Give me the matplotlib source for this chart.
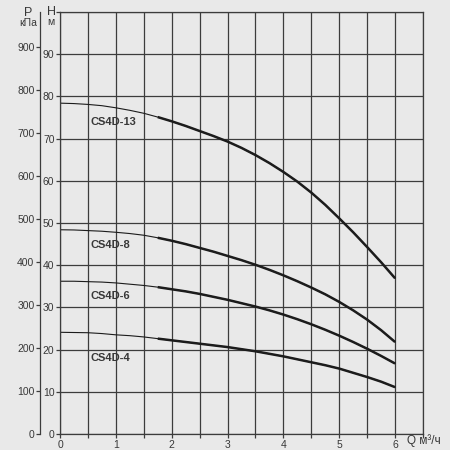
import matplotlib.pyplot as plt
import numpy as np

plt.rcParams['font.family'] = ['Liberation Sans', 'DejaVu Sans']

# flow, m3/h
q = [0, 0.25, 0.5, 0.75, 1, 1.25, 1.5, 1.75, 2, 2.25, 2.5, 2.75, 3,
     3.25, 3.5, 3.75, 4, 4.25, 4.5, 4.75, 5, 5.25, 5.5, 5.75, 6]
# head, m
h_13 = [78.4, 78.3, 78.1, 77.8, 77.3, 76.7, 76.0, 75.1, 74.1, 73.0, 71.8, 70.6, 69.3,
        67.8, 66.1, 64.2, 62.1, 59.8, 57.2, 54.3, 51.1, 47.8, 44.3, 40.7, 36.9]
h_8 = [48.4, 48.35, 48.2, 48.05, 47.8, 47.5, 47.1, 46.5, 45.8, 45.0, 44.1, 43.2, 42.2,
       41.2, 40.1, 38.9, 37.6, 36.2, 34.7, 33.1, 31.3, 29.3, 27.1, 24.6, 21.8]
h_6 = [36.2, 36.2, 36.1, 36.0, 35.8, 35.5, 35.2, 34.8, 34.3, 33.8, 33.2, 32.5, 31.8,
       31.0, 30.2, 29.3, 28.3, 27.2, 26.0, 24.7, 23.3, 21.8, 20.2, 18.5, 16.7]
h_4 = [24.1, 24.05, 24.0, 23.8, 23.5, 23.3, 23.0, 22.6, 22.2, 21.8, 21.4, 21.0, 20.6,
       20.1, 19.6, 19.0, 18.4, 17.7, 17.0, 16.3, 15.5, 14.5, 13.5, 12.4, 11.1]
names = ['CS4D-13', 'CS4D-8', 'CS4D-6', 'CS4D-4']
name_h = [73.9, 44.7, 32.6, 18.0]
q_grid = [0, 0.5, 1, 1.5, 2, 2.5, 3, 3.5, 4, 4.5, 5, 5.5, 6, 6.5]
q_labels = ['0', '', '1', '', '2', '', '3', '', '4', '', '5', '', '6', '']
h_ticks = [0, 10, 20, 30, 40, 50, 60, 70, 80, 90]
p_ticks = [0, 100, 200, 300, 400, 500, 600, 700, 800, 900]

bg = '#e9e9e9'
ink = '#1c1c1c'
gridc = '#3c3c3c'
txt = '#383838'

fig = plt.figure(figsize=(4.5, 4.5), dpi=100, facecolor=bg)
ax = fig.add_axes([60/450, 16/450, 363/450, 422/450], facecolor=bg)

ax.set_xlim(0, 6.5)
ax.set_ylim(0, 100)
ax.set_xticks(q_grid)
ax.set_xticklabels(q_labels)
ax.set_yticks(h_ticks + [100])
ax.set_yticklabels([str(t) for t in h_ticks] + [''])
ax.grid(True, color=gridc, lw=0.9)
for s in ax.spines.values():
    s.set_color(gridc)
    s.set_linewidth(0.9)
ax.tick_params(axis='both', length=3, width=0.9, color=gridc,
               labelsize=7.5, labelcolor=txt, pad=1)

ini = 7  # thick part from q = 1.75
for h in [h_13, h_8, h_6, h_4]:
    ax.plot(q, h, color=ink, lw=0.8)
    ax.plot(q[ini:], h[ini:], color=ink, lw=1.8, solid_capstyle='butt')

for n, y in zip(names, name_h):
    ax.text(0.54, y, n, fontsize=8, fontweight='bold', color=txt,
            va='center', ha='left')

# pressure axis, kPa
ax2 = ax.twinx()
ax2.set_ylim(0, 100*9.81)
ax2.yaxis.set_ticks_position('left')
ax2.yaxis.set_label_position('left')
ax2.spines['left'].set_position(('outward', 14.4))
ax2.spines['left'].set_color(gridc)
ax2.spines['left'].set_linewidth(0.9)
for k in ['right', 'top', 'bottom']:
    ax2.spines[k].set_visible(False)
ax2.set_yticks(p_ticks)
ax2.tick_params(axis='y', length=3, width=0.9, color=gridc,
                labelsize=7.5, labelcolor=txt, pad=1)

fig.text(28/450, 1-13/450, 'P', fontsize=9, color=txt, ha='center', va='center')
fig.text(28/450, 1-23/450, 'кПа', fontsize=7.5, color=txt, ha='center', va='center')
fig.text(51/450, 1-12/450, 'H', fontsize=9, color=txt, ha='center', va='center')
fig.text(51/450, 1-22/450, 'м', fontsize=7.5, color=txt, ha='center', va='center')
fig.text(407/450, 1-441/450, 'Q м³/ч', fontsize=8.5, color=txt, ha='left', va='center')

fig.savefig('out.png', dpi=100, facecolor=bg)
